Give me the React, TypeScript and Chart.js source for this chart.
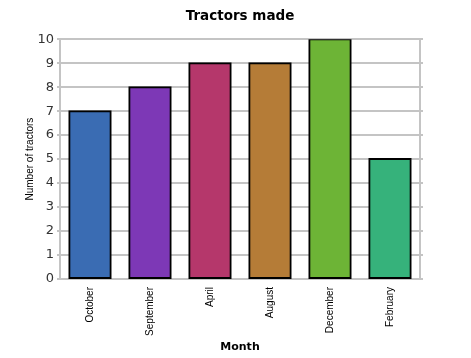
import React, { useEffect, useRef } from "react";
import { Chart, registerables } from "chart.js";

Chart.register(...registerables);

const categories = ["October", "September", "April", "August", "December", "February"];
const tractors = [7, 8, 9, 9, 10, 5];
const barColors = ["#3a6cb3", "#7d38b6", "#b5376b", "#b57c37", "#6db436", "#36b27b"];
const chartTitle = "Tractors made";
const xTitle = "Month";
const yTitle = "Number of tractors";

const GRID = "#c4c4c4";

export default function App() {
  const ref = useRef<HTMLCanvasElement | null>(null);
  useEffect(() => {
    if (!ref.current) return;
    const chart = new Chart(ref.current, {
      type: "bar",
      data: {
        labels: categories,
        datasets: [
          {
            data: tractors,
            backgroundColor: barColors,
            borderColor: "#000000",
            borderWidth: 2,
            borderSkipped: false,
            inflateAmount: 1,
            barPercentage: 0.69,
            categoryPercentage: 1,
          },
        ],
      },
      options: {
        responsive: false,
        animation: false,
        layout: { padding: { left: 9, right: 0, top: 0, bottom: 4 } },
        plugins: {
          legend: { display: false },
          tooltip: { enabled: false },
          title: {
            display: true,
            text: chartTitle,
            color: "#000",
            font: { family: "DejaVu Sans", size: 13.5, weight: "bold" },
            padding: { top: 8, bottom: 15 },
          },
        },
        scales: {
          x: {
            grid: { display: false, drawTicks: false, tickLength: 0 },
            border: { display: true, color: GRID, width: 2 },
            ticks: {
              minRotation: 90,
              maxRotation: 90,
              padding: 8,
              color: "#000",
              font: { family: "Liberation Sans", size: 10 },
            },
            title: {
              display: true,
              text: xTitle,
              color: "#000",
              font: { family: "DejaVu Sans", size: 11, weight: "bold" },
              padding: { top: 0, bottom: 0 },
            },
            afterFit: (s: any) => {
              s.height = 75;
            },
          },
          y: {
            min: 0,
            max: 10,
            ticks: {
              stepSize: 1,
              padding: 3,
              color: "#333",
              font: { family: "DejaVu Sans", size: 13 },
            },
            grid: { color: GRID, lineWidth: 2, tickLength: 3 },
            border: { color: GRID, width: 2 },
            title: {
              display: true,
              text: yTitle,
              color: "#000",
              font: { family: "Liberation Sans", size: 10 },
              padding: { top: 15, bottom: 0 },
            },
            afterFit: (s: any) => {
              s.width = 51;
            },
          },
          y2: {
            position: "right",
            min: 0,
            max: 10,
            ticks: { display: false, stepSize: 1 },
            grid: { drawOnChartArea: false, color: GRID, lineWidth: 2, tickLength: 3 },
            border: { color: GRID, width: 2 },
            afterFit: (s: any) => {
              s.width = 51;
            },
          },
        },
      },
    });
    return () => chart.destroy();
  }, []);
  return (
    <div style={{ position: "absolute", left: 0, top: 0, width: 471, height: 358, background: "#fff" }}>
      <canvas ref={ref} width={471} height={358} />
    </div>
  );
}
